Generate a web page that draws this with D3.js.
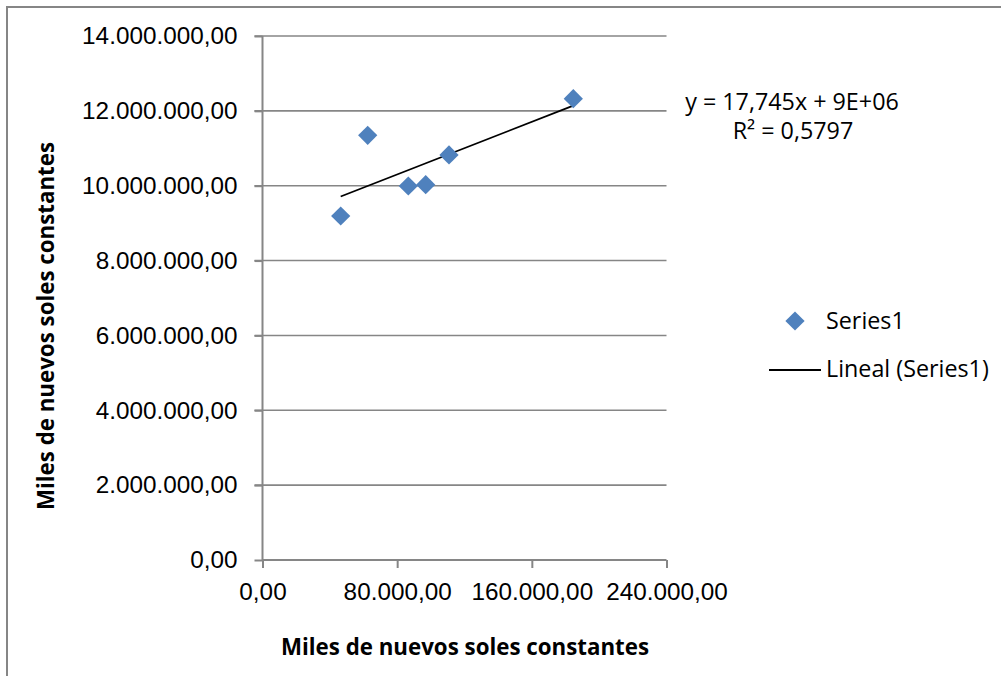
<!DOCTYPE html>
<html lang="es">
<head>
<meta charset="utf-8">
<style>
  body { margin: 0; background: white; }
  svg { font-family: 'Open Sans', sans-serif; background: white; }
  .tick text { font-size: 24.3px; fill: #000; }
  .axis path, .axis line { stroke: #868686; stroke-width: 2px; }
  .grid line { stroke: #868686; stroke-width: 1.6px; }
  .title { font-weight: bold; font-size: 22.3px; }
  .legend, .trend-label { font-size: 23.3px; }
</style>
</head>
<body>
<svg width="1001" height="676"></svg>
<script src="https://d3js.org/d3.v7.min.js"></script>
<script>
// data
const xValues = [46455, 62495, 86614, 96951, 110792, 184634];
const yValues = [9190840, 11347000, 9992500, 10027000, 10820800, 12325000];
const xTicks = [0, 80000, 160000, 240000];
const yTicks = [0, 2000000, 4000000, 6000000, 8000000, 10000000, 12000000, 14000000];
const seriesName = "Series1";
const trendName = "Lineal (Series1)";
const trendEquation = "y = 17,745x + 9E+06";
const trendR2 = "R² = 0,5797";
const xTitle = "Miles de nuevos soles constantes";
const yTitle = "Miles de nuevos soles constantes";

const width = 1001, height = 676;
const plot = { left: 262.5, right: 666.5, top: 36, bottom: 560 };

const svg = d3.select("svg");

// outer chart border (only the top/left edges are visible)
svg.append("rect")
  .attr("x", 7).attr("y", 7)
  .attr("width", 1100).attr("height", 800)
  .attr("fill", "none")
  .attr("stroke", "#868686")
  .attr("stroke-width", 2);

const x = d3.scaleLinear().domain([0, 240000]).range([plot.left, plot.right]);
const y = d3.scaleLinear().domain([0, 14000000]).range([plot.bottom, plot.top]);

const es = d3.formatLocale({ decimal: ",", thousands: ".", grouping: [3], currency: ["", ""] });
const fmt = es.format(",.2f");

// horizontal gridlines
svg.append("g").attr("class", "grid")
  .selectAll("line")
  .data(yTicks.filter(d => d > 0))
  .join("line")
  .attr("x1", plot.left - 8).attr("x2", plot.right)
  .attr("y1", d => y(d)).attr("y2", d => y(d));

const yAxis = d3.axisLeft(y).tickValues(yTicks).tickFormat(fmt).tickSize(8).tickPadding(17);
svg.append("g")
  .attr("class", "axis y")
  .attr("transform", "translate(" + plot.left + ",0)")
  .call(yAxis)
  .call(g => g.select(".domain").attr("d", "M0," + plot.top + "V" + plot.bottom));

const xAxis = d3.axisBottom(x).tickValues(xTicks).tickFormat(fmt).tickSize(8).tickPadding(15);
svg.append("g")
  .attr("class", "axis x")
  .attr("transform", "translate(0," + plot.bottom + ")")
  .call(xAxis)
  .call(g => g.select(".domain").attr("d", "M" + plot.left + ",0H" + plot.right));

// least squares trend line
const n = xValues.length;
const mx = d3.mean(xValues), my = d3.mean(yValues);
let sxy = 0, sxx = 0;
for (let i = 0; i < n; i++) {
  sxy += (xValues[i] - mx) * (yValues[i] - my);
  sxx += (xValues[i] - mx) ** 2;
}
const slope = sxy / sxx, intercept = my - slope * mx;
const xMin = d3.min(xValues), xMax = d3.max(xValues);

svg.append("line")
  .attr("x1", x(xMin)).attr("y1", y(intercept + slope * xMin))
  .attr("x2", x(xMax)).attr("y2", y(intercept + slope * xMax))
  .attr("stroke", "#000").attr("stroke-width", 1.8);

// points
const diamond = d3.symbol().type(d3.symbolSquare).size(185);
svg.append("g")
  .selectAll("path")
  .data(xValues.map((v, i) => [v, yValues[i]]))
  .join("path")
  .attr("d", diamond)
  .attr("transform", d => "translate(" + x(d[0]) + "," + y(d[1]) + ") rotate(45)")
  .attr("fill", "#4F81BD");

// trend label
svg.append("text").attr("class", "trend-label")
  .attr("x", 792).attr("y", 110).attr("text-anchor", "middle")
  .text(trendEquation);
svg.append("text").attr("class", "trend-label")
  .attr("x", 793).attr("y", 139).attr("text-anchor", "middle")
  .text(trendR2);

// legend
const legend = svg.append("g");
legend.append("path")
  .attr("d", diamond)
  .attr("transform", "translate(795,321) rotate(45)")
  .attr("fill", "#4F81BD");
legend.append("text").attr("class", "legend")
  .attr("x", 826).attr("y", 329).text(seriesName);
legend.append("line")
  .attr("x1", 769).attr("x2", 821).attr("y1", 370).attr("y2", 370)
  .attr("stroke", "#000").attr("stroke-width", 1.8);
legend.append("text").attr("class", "legend")
  .attr("x", 826).attr("y", 377).text(trendName);

// axis titles
svg.append("text").attr("class", "title")
  .attr("x", 465).attr("y", 655).attr("text-anchor", "middle")
  .text(xTitle);
svg.append("text").attr("class", "title")
  .attr("transform", "translate(54,326) rotate(-90)")
  .attr("text-anchor", "middle")
  .text(yTitle);
</script>
</body>
</html>
